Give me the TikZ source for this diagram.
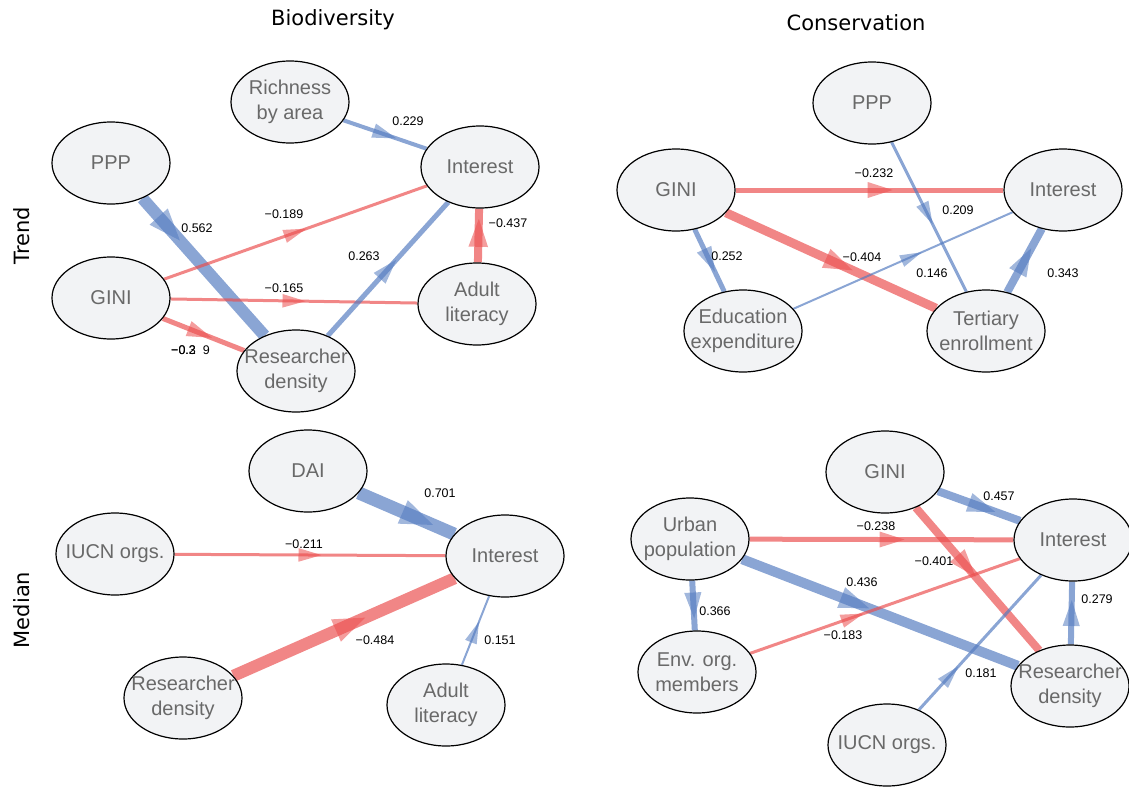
\documentclass[tikz,border=0pt]{standalone}
\usepackage{fontspec}
\setmainfont{Liberation Sans}
\newfontfamily\djv{DejaVu Sans}
\usetikzlibrary{shapes.geometric,decorations.markings,backgrounds}
\definecolor{eblue}{RGB}{83,123,192}
\definecolor{ered}{RGB}{235,77,77}
\definecolor{nfill}{RGB}{242,243,245}
\definecolor{ntext}{RGB}{105,105,105}
\tikzset{
  var/.style={ellipse, draw=black, line width=1.2pt, fill=nfill,
    minimum width=118pt, minimum height=82pt, inner sep=0pt,
    label={[vtext]center:#1}},
  vtext/.style={text=ntext, align=center, inner sep=0pt,
    font=\fontsize{20}{25}\selectfont},
  elab/.style={font=\fontsize{12.5}{14}\selectfont, text=black, inner sep=0pt},
  ttl/.style={font=\djv\fontsize{21}{25}\selectfont, text=black, inner sep=0pt},
  edge/.style n args={3}{line width=#2pt, draw=#1, draw opacity=0.68,
    postaction={decorate, decoration={markings, mark=at position #3 with {
      \fill[#1, fill opacity=0.55] ({(20+#2)/2},0) -- ({-(20+#2)/2},{5+0.6*#2}) -- ({-(20+#2)/2},{-5-0.6*#2}) -- cycle;}}}},
}
\begin{document}
\begin{tikzpicture}[x=1pt,y=-1pt]
\useasboundingbox (0,0) rectangle (1129,790);
% titles
\node[ttl] (t1) at (333,20) {Biodiversity};
\node[ttl] (t2) at (856,23) {Conservation};
\node[ttl, rotate=90] (r1) at (22,236) {Trend};
\node[ttl, rotate=90] (r2) at (22,610) {Median};
% top-left
\node[var={Richness\\by area}] (tlrich) at (290,102) {};
\node[var={Interest}] (tlint) at (480,167) {};
\node[var={PPP}] (tlppp) at (111,163) {};
\node[var={GINI}] (tlgini) at (111,298) {};
\node[var={Adult\\literacy}] (tladult) at (477,304) {};
\node[var={Researcher\\density}] (tlrd) at (296,371) {};
% top-right
\node[var={PPP}] (trppp) at (872,103) {};
\node[var={GINI}] (trgini) at (676,190) {};
\node[var={Interest}] (trint) at (1063,190) {};
\node[var={Education\\expenditure}] (tredu) at (743,331) {};
\node[var={Tertiary\\enrollment}] (trter) at (986,331) {};
% bottom-left
\node[var={DAI}] (bldai) at (308,471) {};
\node[var={IUCN orgs.}] (bliucn) at (115,554) {};
\node[var={Interest}] (blint) at (505,556) {};
\node[var={Researcher\\density}] (blrd) at (183,698) {};
\node[var={Adult\\literacy}] (bladult) at (446,705) {};
% bottom-right
\node[var={GINI}] (brgini) at (885,472) {};
\node[var={Urban\\population}] (brurb) at (690,539) {};
\node[var={Interest}] (brint) at (1073,540) {};
\node[var={Env. org.\\members}] (brenv) at (697,672) {};
\node[var={Researcher\\density}] (brrd) at (1070,686) {};
\node[var={IUCN orgs.}] (briucn) at (887,745) {};
\begin{scope}[on background layer]
% top-left edges
\draw[edge={eblue}{4}{0.5}] (tlrich) -- (tlint);
\draw[edge={eblue}{12}{0.22}] (tlppp) -- (tlrd);
\draw[edge={ered}{3}{0.5}] (tlgini) -- (tlint);
\draw[edge={ered}{3}{0.5}] (tlgini) -- (tladult);
\draw[edge={ered}{5}{0.46}] (tlgini) -- (tlrd);
\draw[edge={eblue}{5}{0.5}] (tlrd) -- (tlint);
\draw[edge={ered}{8}{0.55}] (tladult) -- (tlint);
% top-right edges
\draw[edge={ered}{5}{0.54}] (trgini) -- (trint);
\draw[edge={eblue}{3}{0.48}] (trppp) -- (trter);
\draw[edge={eblue}{5}{0.5}] (trgini) -- (tredu);
\draw[edge={ered}{9}{0.54}] (trgini) -- (trter);
\draw[edge={eblue}{2}{0.54}] (tredu) -- (trint);
\draw[edge={eblue}{8}{0.5}] (trter) -- (trint);
% bottom-left edges
\draw[edge={eblue}{13}{0.62}] (bldai) -- (blint);
\draw[edge={ered}{3}{0.5}] (bliucn) -- (blint);
\draw[edge={ered}{12}{0.53}] (blrd) -- (blint);
\draw[edge={eblue}{2}{0.48}] (bladult) -- (blint);
% bottom-right edges
\draw[edge={eblue}{8}{0.54}] (brgini) -- (brint);
\draw[edge={ered}{8}{0.41}] (brgini) -- (brrd);
\draw[edge={ered}{5}{0.54}] (brurb) -- (brint);
\draw[edge={eblue}{10}{0.41}] (brurb) -- (brrd);
\draw[edge={eblue}{6}{0.5}] (brurb) -- (brenv);
\draw[edge={ered}{3}{0.38}] (brenv) -- (brint);
\draw[edge={eblue}{3}{0.26}] (briucn) -- (brint);
\draw[edge={eblue}{6}{0.5}] (brrd) -- (brint);
\end{scope}
% labels top-left
\node[elab] (l1) at (408,121) {0.229};
\node[elab] (l2) at (197,228) {0.562};
\node[elab] (l3) at (284,214) {−0.189};
\node[elab] (l4) at (284,288) {−0.165};
\node[elab, anchor=west] (l5) at (171,350) {−0.2\hphantom{0}9};
\node[elab, anchor=west] (l5b) at (171,350) {−0.3};
\node[elab] (l6) at (364,256) {0.263};
\node[elab] (l7) at (508,223) {−0.437};
% labels top-right
\node[elab] (l8) at (874,173) {−0.232};
\node[elab] (l9) at (958,210) {0.209};
\node[elab] (l10) at (727,256) {0.252};
\node[elab] (l11) at (862,257) {−0.404};
\node[elab] (l12) at (932,273) {0.146};
\node[elab] (l13) at (1063,273) {0.343};
% labels bottom-left
\node[elab] (l14) at (440,493) {0.701};
\node[elab] (l15) at (304,544) {−0.211};
\node[elab] (l16) at (375,640) {−0.484};
\node[elab] (l17) at (500,640) {0.151};
% labels bottom-right
\node[elab] (l18) at (999,496) {0.457};
\node[elab] (l19) at (876,526) {−0.238};
\node[elab] (l20) at (934,561) {−0.401};
\node[elab] (l21) at (862,582) {0.436};
\node[elab] (l22) at (715,611) {0.366};
\node[elab] (l23) at (843,635) {−0.183};
\node[elab] (l24) at (981,673) {0.181};
\node[elab] (l25) at (1097,599) {0.279};
\end{tikzpicture}
\end{document}
